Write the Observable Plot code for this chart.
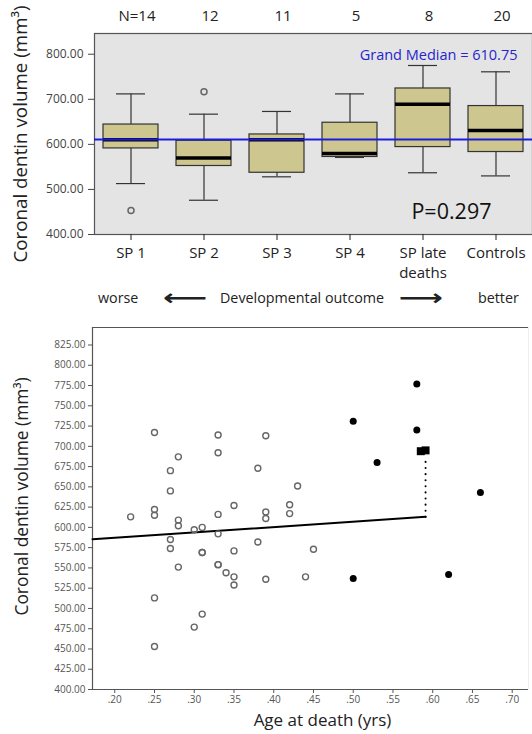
<!DOCTYPE html>
<html>
<head>
<meta charset="utf-8">
<script src="https://cdn.jsdelivr.net/npm/d3@7"></script>
<script src="https://cdn.jsdelivr.net/npm/@observablehq/plot@0.6"></script>
<style>
  html, body { margin: 0; padding: 0; background: #fff; }
  #wrap { position: relative; width: 532px; height: 734px; overflow: hidden; font-family: "Open Sans", sans-serif; }
  #topChart, #bottomChart { position: absolute; left: 0; }
  #topChart { top: 0; }
  #bottomChart { top: 320px; }
  .row { position: absolute; top: 287px; font-size: 14.3px; color: #222; white-space: nowrap; line-height: 22px; }
  .arrow { font-family: "DejaVu Sans", sans-serif; font-size: 22px; font-weight: bold; line-height: 22px; transform: scaleX(1.4); transform-origin: left center; }
</style>
</head>
<body>
<div id="wrap">
  <div id="topChart"></div>
  <span class="row" style="left:98px">worse</span>
  <span class="row arrow" style="left:163px">⟵</span>
  <span class="row" style="left:220px">Developmental outcome</span>
  <span class="row arrow" style="left:399px">⟶</span>
  <span class="row" style="left:478px">better</span>
  <div id="bottomChart"></div>
</div>
<script>
// ---- Top panel: box plot summaries ----
const categories = ["SP 1", "SP 2", "SP 3", "SP 4", "SP late\ndeaths", "Controls"];
const counts = ["N=14", "12", "11", "5", "8", "20"];
const whiskerLow = [513, 476, 528, 571, 537, 530];
const q1 = [591, 552, 537, 572, 594, 583];
const median = [610, 570, 610, 580, 689, 631];
const q3 = [644, 608, 622, 648, 724, 685];
const whiskerHigh = [712, 667, 673, 712, 775, 761];
const outlierCat = ["SP 1", "SP 2"];
const outlierVal = [453, 717];
const grandMedian = 610.75;
const topTicks = [400, 500, 600, 700, 800];

// ---- Bottom panel: scatter ----
const openAge = [
  0.22,
  0.25, 0.25, 0.25, 0.25, 0.25,
  0.27, 0.27, 0.27, 0.27,
  0.28, 0.28, 0.28, 0.28,
  0.30, 0.30,
  0.31, 0.31, 0.31, 0.31,
  0.33, 0.33, 0.33, 0.33, 0.33, 0.33,
  0.34,
  0.35, 0.35, 0.35, 0.35,
  0.38, 0.38,
  0.39, 0.39, 0.39, 0.39,
  0.42, 0.42,
  0.43,
  0.44,
  0.45
];
const openVol = [
  613,
  717, 622, 615, 513, 453,
  670, 645, 585, 574,
  687, 609, 602, 551,
  597, 477,
  600, 569, 569, 493,
  714, 692, 616, 592, 554, 554,
  544,
  627, 571, 539, 529,
  673, 582,
  713, 619, 611, 536,
  628, 617,
  651,
  539,
  573
];
const filledAge = [0.50, 0.58, 0.58, 0.53, 0.50, 0.66, 0.62];
const filledVol = [731, 777, 720, 680, 537, 643, 542];
const squareAge = [0.585, 0.591];
const squareVol = [694, 695];
const fitAge = [0.172, 0.591];
const fitVol = [585.3, 613];
const dropAge = [0.591, 0.591];
const dropVol = [613, 688];
const scatterYTicks = d3.range(400, 826, 25);
const scatterXTicks = [0.20, 0.25, 0.30, 0.35, 0.40, 0.45, 0.50, 0.55, 0.60, 0.65, 0.70];

const FONT = "Open Sans, sans-serif";

const boxes = categories.map((c, i) => ({
  cat: c, lo: whiskerLow[i], q1: q1[i], med: median[i], q3: q3[i], hi: whiskerHigh[i], n: counts[i]
}));
const outliers = outlierCat.map((c, i) => ({cat: c, v: outlierVal[i]}));

const topPlot = Plot.plot({
  width: 532,
  height: 285,
  marginTop: 33,
  marginBottom: 51,
  marginLeft: 94,
  marginRight: 0,
  style: {fontFamily: FONT, background: "transparent", overflow: "visible"},
  x: {type: "band", domain: categories, paddingInner: 0.24, paddingOuter: 0.12, label: null},
  y: {domain: [400, 846], label: null},
  marks: [
    Plot.frame({fill: "#e4e4e4", stroke: "#555", strokeWidth: 1.2}),
    Plot.ruleX(boxes, {x: "cat", y1: "lo", y2: "hi", stroke: "#333", strokeWidth: 1.2}),
    Plot.tickY(boxes, {x: "cat", y: "lo", stroke: "#333", strokeWidth: 1.2, insetLeft: 13, insetRight: 13}),
    Plot.tickY(boxes, {x: "cat", y: "hi", stroke: "#333", strokeWidth: 1.2, insetLeft: 13, insetRight: 13}),
    Plot.barY(boxes, {x: "cat", y1: "q1", y2: "q3", fill: "#cdc68f", stroke: "#333", strokeWidth: 1.2}),
    Plot.tickY(boxes, {x: "cat", y: "med", stroke: "#000", strokeWidth: 3.5}),
    Plot.dot(outliers, {x: "cat", y: "v", r: 3, stroke: "#666", strokeWidth: 1.5, fill: "none"}),
    Plot.ruleY([grandMedian], {stroke: "#1c1ce0", strokeWidth: 2.2}),
    Plot.axisY({ticks: topTicks, tickFormat: d3.format(".2f"), tickSize: 6, tickPadding: 5, fontSize: 12, color: "#444", label: null}),
    Plot.axisX({tickSize: 6, tickPadding: 4, fontSize: 15, color: "#222", lineHeight: 1.3, label: null}),
    Plot.text(boxes, {x: "cat", text: "n", frameAnchor: "top", lineAnchor: "middle", dy: -17, dx: 6, fontSize: 15, fill: "#222"}),
    Plot.text(["Grand Median = 610.75"], {frameAnchor: "top-right", textAnchor: "end", lineAnchor: "middle", dx: -15, dy: 22, fontSize: 14.5, fill: "#2525d0"}),
    Plot.text(["P=0.297"], {frameAnchor: "bottom-right", textAnchor: "end", lineAnchor: "middle", dx: -41, dy: -22.6, fontSize: 21.5, fill: "#111"}),
    Plot.text(["Coronal dentin volume (mm³)"], {frameAnchor: "left", rotate: -90, textAnchor: "middle", lineAnchor: "middle", dx: -74, dy: 0, fontSize: 18.8, fill: "#222"})
  ]
});
document.getElementById("topChart").appendChild(topPlot);

const openPts = openAge.map((a, i) => ({a, v: openVol[i]}));
const filledPts = filledAge.map((a, i) => ({a, v: filledVol[i]}));
const squarePts = squareAge.map((a, i) => ({a, v: squareVol[i]}));
const fitPts = fitAge.map((a, i) => ({a, v: fitVol[i]}));
const dropPts = dropAge.map((a, i) => ({a, v: dropVol[i]}));

const xDom = [0.172, 0.7205];
const yDom = [400, 846.6];

const bottomPlot = Plot.plot({
  width: 532,
  height: 414,
  marginTop: 7,
  marginBottom: 45,
  marginLeft: 92,
  marginRight: 4,
  style: {fontFamily: FONT, background: "transparent", overflow: "visible"},
  x: {domain: xDom, label: null},
  y: {domain: yDom, label: null},
  marks: [
    Plot.ruleY([yDom[1]], {stroke: "#555", strokeWidth: 1.2}),
    Plot.ruleX([xDom[1]], {stroke: "#eee", strokeWidth: 1}),
    Plot.axisY({ticks: scatterYTicks, tickFormat: d3.format(".2f"), tickSize: 4, tickPadding: 3, fontSize: 10, color: "#555", label: null}),
    Plot.axisX({ticks: scatterXTicks, tickFormat: d => d3.format(".2f")(d).replace(/^0/, ""), tickSize: 4, tickPadding: 2, fontSize: 10, color: "#555", label: null}),
    Plot.ruleX([xDom[0]], {stroke: "#555", strokeWidth: 1.2}),
    Plot.ruleY([yDom[0]], {stroke: "#555", strokeWidth: 1.2}),
    Plot.line(fitPts, {x: "a", y: "v", stroke: "#000", strokeWidth: 2}),
    Plot.line(dropPts, {x: "a", y: "v", stroke: "#000", strokeWidth: 2, strokeDasharray: "0.1,6", strokeLinecap: "round"}),
    Plot.dot(openPts, {x: "a", y: "v", r: 3, stroke: "#666", strokeWidth: 1.4, fill: "none"}),
    Plot.dot(filledPts, {x: "a", y: "v", r: 3.5, fill: "#000", stroke: "none"}),
    Plot.dot(squarePts, {x: "a", y: "v", r: 4.5, symbol: "square", fill: "#000", stroke: "none"}),
    Plot.text(["Age at death (yrs)"], {frameAnchor: "bottom", lineAnchor: "middle", dy: 31, dx: 12, fontSize: 17, fill: "#222"}),
    Plot.text(["Coronal dentin volume (mm³)"], {frameAnchor: "left", rotate: -90, textAnchor: "middle", lineAnchor: "middle", dx: -70, dy: -12, fontSize: 17.4, fill: "#222"})
  ]
});
document.getElementById("bottomChart").appendChild(bottomPlot);
</script>
</body>
</html>
